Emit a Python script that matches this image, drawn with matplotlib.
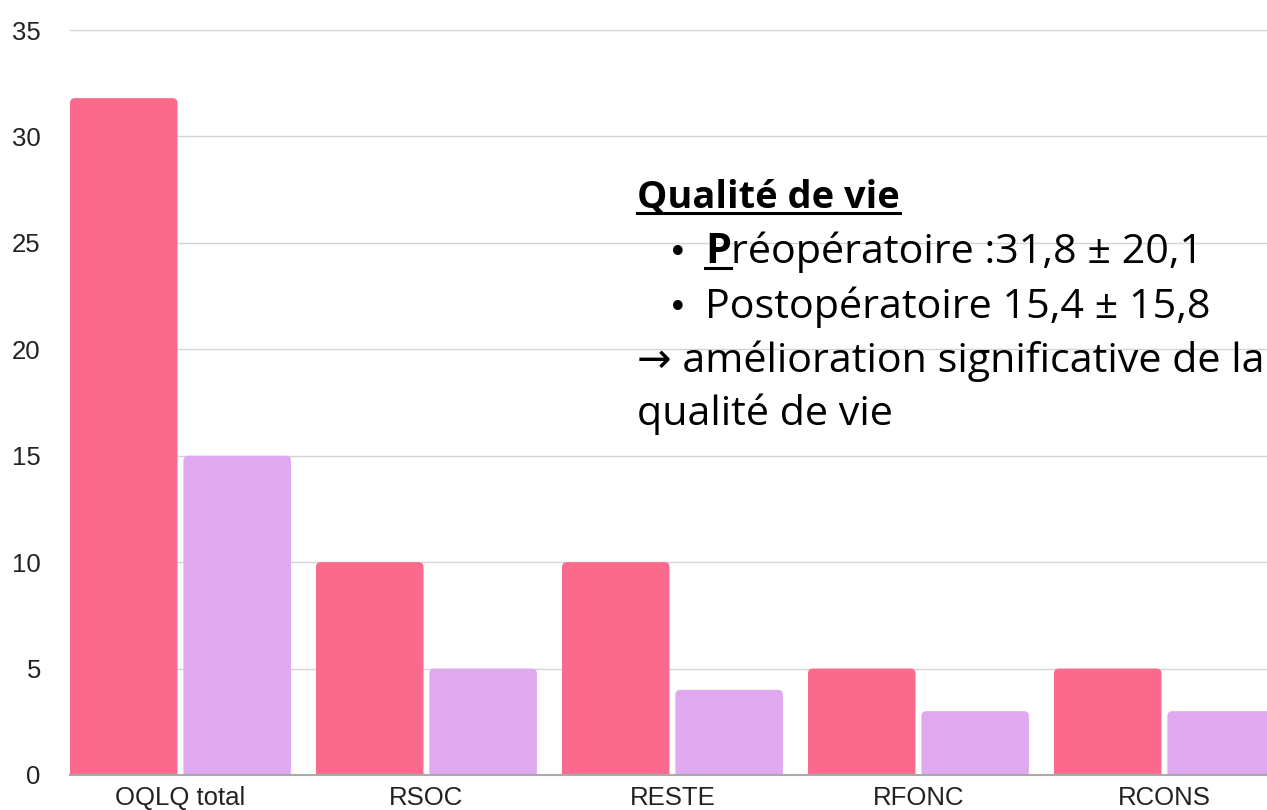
import matplotlib
matplotlib.use("Agg")
import matplotlib.pyplot as plt
from matplotlib.patches import FancyBboxPatch
from matplotlib.lines import Line2D
import numpy as np

categories = ["OQLQ total", "RSOC", "RESTE", "RFONC", "RCONS"]
preop = [31.8, 10, 10, 5, 5]
postop = [15, 5, 4, 3, 3]
yticks = [0, 5, 10, 15, 20, 25, 30, 35]

PINK = "#FA6A8C"
PURPLE = "#E0A8EE"

W, H = 1267, 810
fig = plt.figure(figsize=(W / 100, H / 100), dpi=100)
ax = fig.add_axes([70 / W, 1 - 775 / H, 1197 / W, 745 / H])

x = np.arange(len(categories))
bw = 0.437
off = 0.2305
b1 = ax.bar(x - off, preop, bw, color=PINK, zorder=3)
b2 = ax.bar(x + off, postop, bw, color=PURPLE, zorder=3)

ax.set_xlim(-0.449, 4.417)
ax.set_ylim(0, 35)

# rounded top corners
rx = 5 / 246
aspect = (5 / 21.29) / rx
for bars, col in ((b1, PINK), (b2, PURPLE)):
    for p in bars:
        p.set_visible(False)
        bx, by, bwid, bh = p.get_x(), p.get_y(), p.get_width(), p.get_height()
        fb = FancyBboxPatch((bx, by - 0.5), bwid, bh + 0.5,
                            boxstyle=f"round,pad=0,rounding_size={rx}",
                            mutation_aspect=aspect, fc=col, ec="none",
                            zorder=3, clip_on=True)
        ax.add_patch(fb)

ax.set_yticks(yticks)
ax.set_yticklabels([str(t) for t in yticks], fontsize=18.5, color="#222222",
                   family="Liberation Sans")
ax.set_xticks(x)
ax.set_xticklabels(categories, fontsize=18.5, color="#222222", family="Liberation Sans")
ax.tick_params(axis="both", length=0)
ax.tick_params(axis="y", pad=21)
ax.tick_params(axis="x", pad=8)

ax.grid(axis="y", color="#d4d4d4", linewidth=1, zorder=0)
for s in ["top", "right", "left"]:
    ax.spines[s].set_visible(False)
ax.spines["bottom"].set_color("#aaaaaa")
ax.spines["bottom"].set_linewidth(1.5)
ax.spines["bottom"].set_zorder(4)

# annotation text
FONT = ["Open Sans", "DejaVu Sans"]
def fx(px):
    return px / W
def fy(py):
    return 1 - py / H

title = fig.text(fx(637), fy(208), "Qualité de vie", fontsize=27.4, fontweight="bold",
                 family=FONT, color="black", va="baseline", ha="left")
fs = 29.7
fig.text(fx(668), fy(263), "•", fontsize=24, family="DejaVu Sans", va="baseline")
pP = fig.text(fx(705), fy(263), "P", fontsize=fs, family=FONT, fontweight="bold", va="baseline")
fig.canvas.draw()
r = fig.canvas.get_renderer()
ext = pP.get_window_extent(r)
fig.text(ext.x1 / W, fy(263), "réopératoire :31,8 ± 20,1", fontsize=fs, family=FONT, va="baseline")
fig.text(fx(668), fy(318), "•", fontsize=24, family="DejaVu Sans", va="baseline")
fig.text(fx(705), fy(318), "Postopératoire 15,4 ± 15,8", fontsize=fs, family=FONT, va="baseline")
fig.text(fx(637), fy(372), "→ amélioration significative de la", fontsize=fs, family=FONT, va="baseline")
fig.text(fx(637), fy(425), "qualité de vie", fontsize=fs, family=FONT, va="baseline")

te = title.get_window_extent(r)
fig.add_artist(Line2D([te.x0 / W, te.x1 / W], [fy(213), fy(213)], color="black", lw=2.2))
fig.add_artist(Line2D([ext.x0 / W, ext.x1 / W], [fy(268), fy(268)], color="black", lw=2.2))

fig.savefig("out.png", dpi=100)
